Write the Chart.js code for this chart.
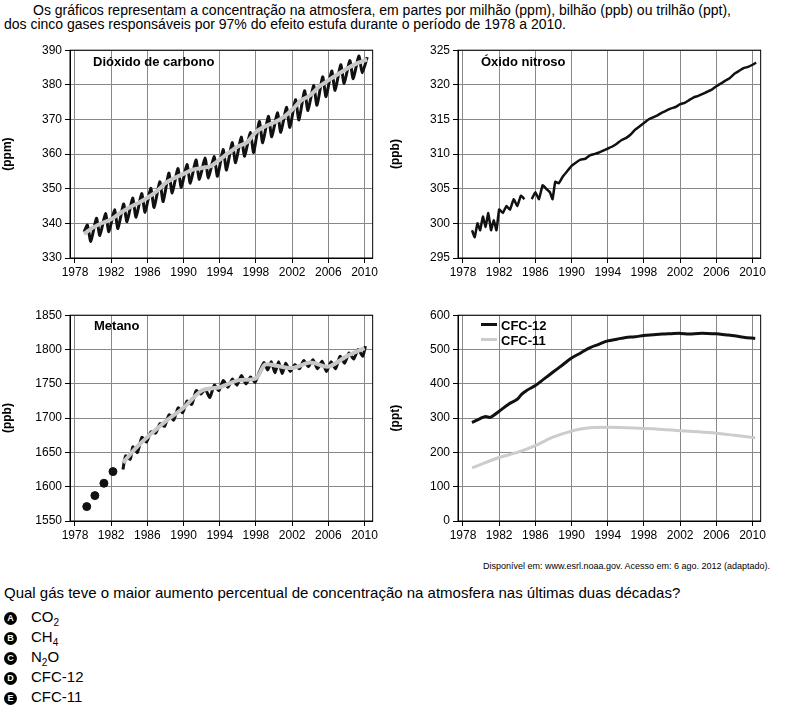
<!DOCTYPE html>
<html><head><meta charset="utf-8">
<script src="https://cdn.jsdelivr.net/npm/chart.js@4"></script>
<style>
body{margin:0;width:789px;height:714px;position:relative;font-family:"Liberation Sans",Arial,sans-serif;color:#000;background:#fff;overflow:hidden}
.t{position:absolute;font-size:14px;white-space:nowrap}
.c{position:absolute}
.lbl{position:absolute;font-weight:bold;font-size:13px}
.opt{position:absolute;left:4px;font-size:15px}
.opt b{display:inline-block;width:13px;height:13px;border-radius:50%;background:#000;color:#fff;font-size:9px;text-align:center;line-height:13px;margin-right:14px;vertical-align:1px}
sub{font-size:10px}
</style></head><body>
<div class="t" style="left:33px;top:2px">Os gráficos representam a concentração na atmosfera, em partes por milhão (ppm), bilhão (ppb) ou trilhão (ppt),</div>
<div class="t" style="left:4px;top:16px">dos cinco gases responsáveis por 97% do efeito estufa durante o período de 1978 a 2010.</div>
<div class="c" style="left:0;top:40px;width:380px;height:243px"><canvas id="co2"></canvas></div>
<div class="c" style="left:388px;top:40px;width:380px;height:243px"><canvas id="n2o"></canvas></div>
<div class="c" style="left:0;top:305px;width:380px;height:241px"><canvas id="ch4"></canvas></div>
<div class="c" style="left:388px;top:305px;width:380px;height:241px"><canvas id="cfc"></canvas></div>
<div class="lbl" style="left:93px;top:54px">Dióxido de carbono</div>
<div class="lbl" style="left:481px;top:54px">Óxido nitroso</div>
<div class="lbl" style="left:94px;top:318px">Metano</div>
<div class="lbl" style="left:481px;top:318px"><span style="display:inline-block;width:16px;height:3px;background:#111;vertical-align:4px;margin-right:4px"></span>CFC-12</div>
<div class="lbl" style="left:481px;top:333px"><span style="display:inline-block;width:16px;height:3px;background:#ccc;vertical-align:4px;margin-right:4px"></span>CFC-11</div>
<div class="t" style="left:483px;top:561px;font-size:9px">Disponível em: www.esrl.noaa.gov. Acesso em: 6 ago. 2012 (adaptado).</div>
<div class="t" style="left:4px;top:584px;font-size:15px">Qual gás teve o maior aumento percentual de concentração na atmosfera nas últimas duas décadas?</div>
<div class="opt" style="top:608px"><b>A</b>CO<sub>2</sub></div>
<div class="opt" style="top:628px"><b>B</b>CH<sub>4</sub></div>
<div class="opt" style="top:648px"><b>C</b>N<sub>2</sub>O</div>
<div class="opt" style="top:668px"><b>D</b>CFC-12</div>
<div class="opt" style="top:688px"><b>E</b>CFC-11</div>
<script>
const xTicks = [1978,1982,1986,1990,1994,1998,2002,2006,2010];

const co2Years = [1979.0,1979.37,1979.75,1980.37,1980.75,1981.37,1981.75,1982.37,1982.75,1983.37,1983.75,1984.37,1984.75,1985.37,1985.75,1986.37,1986.75,1987.37,1987.75,1988.37,1988.75,1989.37,1989.75,1990.37,1990.75,1991.37,1991.75,1992.37,1992.75,1993.37,1993.75,1994.37,1994.75,1995.37,1995.75,1996.37,1996.75,1997.37,1997.75,1998.37,1998.75,1999.37,1999.75,2000.37,2000.75,2001.37,2001.75,2002.37,2002.75,2003.37,2003.75,2004.37,2004.75,2005.37,2005.75,2006.37,2006.75,2007.37,2007.75,2008.37,2008.75,2009.37,2009.75,2010.3];
const co2Values = [337.5,339.5,334.8,341.5,336.5,342.8,337.6,343.9,338.5,345.6,340.5,347.3,341.8,348.6,343.2,350.1,344.6,352.0,346.3,354.5,348.8,355.8,350.4,357.0,351.6,358.3,352.7,358.9,353.1,359.3,353.6,361.3,355.4,363.3,357.5,364.9,359.4,366.2,360.5,369.4,363.3,370.9,365.0,371.9,366.3,373.5,367.7,375.7,369.9,378.3,372.6,379.8,374.1,382.3,376.6,384.0,378.4,385.8,380.4,387.0,381.8,388.3,383.5,388.0];
const co2TrendYears = [1979,1980,1981,1982,1983,1984,1985,1986,1987,1988,1989,1990,1991,1992,1993,1994,1995,1996,1997,1998,1999,2000,2001,2002,2003,2004,2005,2006,2007,2008,2009,2010.3];
const co2Trend = [337.0,338.8,340.1,341.2,343.0,344.6,345.9,347.4,349.2,351.6,353.1,354.3,355.5,356.0,356.5,358.4,360.4,362.2,363.4,366.4,368.0,369.1,370.6,372.8,375.5,377.0,379.5,381.3,383.0,384.6,386.0,387.3];

const n2oYears = [1979.0,1979.3,1979.6,1979.9,1980.2,1980.5,1980.8,1981.1,1981.4,1981.7,1982.0,1982.4,1982.8,1983.2,1983.6,1984.0,1984.4,1984.8,1985.2,1985.6,1986.0,1986.4,1986.8,1987.2,1987.6,1987.9,1988.2,1988.6,1989.0,1989.5,1990.0,1990.5,1991.0,1991.5,1992.0,1992.5,1993.0,1993.5,1994.0,1994.5,1995.0,1995.5,1996.0,1996.5,1997.0,1997.5,1998.0,1998.5,1999.0,1999.5,2000.0,2000.5,2001.0,2001.5,2002.0,2002.5,2003.0,2003.5,2004.0,2004.5,2005.0,2005.5,2006.0,2006.5,2007.0,2007.5,2008.0,2008.5,2009.0,2009.5,2010.0,2010.4];
const n2oValues = [299,298,300,299,301,299.5,301.5,299,300.5,299,302,301.5,302.5,302,303.5,302.5,304,303.5,null,303.5,304.5,303.5,305.5,305,304.5,303.5,306,305.8,306.7,307.5,308.3,308.8,309.2,309.3,309.8,310.0,310.2,310.5,310.8,311.1,311.5,312.0,312.3,312.8,313.5,314.0,314.5,315.0,315.3,315.6,316.0,316.3,316.6,316.8,317.2,317.4,317.8,318.2,318.4,318.7,319.0,319.3,319.8,320.2,320.6,321.0,321.6,322.0,322.4,322.6,322.9,323.2];

const ch4DotYears = [1979.3,1980.2,1981.2,1982.2];
const ch4DotValues = [1571,1587,1605,1622];
const ch4Years = [1983.3,1983.6,1984.1,1984.4,1984.9,1985.4,1985.9,1986.4,1986.9,1987.4,1987.9,1988.4,1988.9,1989.4,1989.9,1990.4,1990.9,1991.4,1991.9,1992.4,1992.9,1993.4,1993.9,1994.4,1994.9,1995.4,1995.9,1996.4,1996.9,1997.4,1997.9,1998.4,1998.9,1999.3,1999.7,2000.1,2000.5,2000.9,2001.3,2001.8,2002.3,2002.8,2003.3,2003.8,2004.3,2004.8,2005.3,2005.8,2006.3,2006.8,2007.3,2007.8,2008.3,2008.8,2009.3,2009.8,2010.1];
const ch4Values = [1625,1645,1640,1658,1650,1672,1665,1680,1678,1692,1688,1705,1697,1715,1708,1725,1720,1740,1735,1742,1730,1748,1740,1755,1745,1757,1748,1762,1750,1760,1752,1768,1781,1770,1782,1766,1782,1765,1780,1768,1778,1772,1784,1775,1785,1772,1783,1768,1782,1772,1790,1780,1795,1786,1800,1790,1805];
const ch4TrendYears = [1983.3,1985,1988,1990,1992,1994,1996,1998,1999,2000,2002,2004,2006,2008,2010];
const ch4Trend = [1635,1660,1695,1715,1740,1745,1755,1758,1778,1777,1773,1781,1775,1790,1802];

const cfc12Years = [1979,1980,1980.5,1981,1982,1983,1984,1984.5,1985,1986,1987,1988,1989,1990,1991,1992,1993,1994,1995,1996,1997,1998,1999,2000,2001,2002,2003,2004,2005,2006,2007,2008,2009,2010.3];
const cfc12Values = [287,300,305,302,320,340,355,370,380,395,415,435,455,475,490,505,515,525,530,535,537,541,543,545,546,547,545,547,547,546,543,540,536,532];
const cfc11Years = [1979,1980,1982,1984,1986,1988,1990,1991,1992,1994,1996,1998,2000,2002,2004,2006,2008,2010.3];
const cfc11Values = [155,165,185,200,220,245,262,268,272,273,272,270,267,263,260,256,250,243];

const pts = (xs, ys) => xs.map((x, i) => ({x: x, y: ys[i]}));
const F = {family: 'Liberation Sans', size: 12};

// cadre noir autour de la zone de tracé
const frame = {
    id: 'frame',
    afterDraw(chart) {
        const a = chart.chartArea, ctx = chart.ctx;
        ctx.save();
        ctx.strokeStyle = '#000';
        ctx.lineWidth = 1;
        ctx.strokeRect(a.left, a.top, a.right - a.left, a.bottom - a.top);
        ctx.restore();
    }
};

function makeChart(id, datasets, yMin, yMax, yStep, unit) {
    new Chart(document.getElementById(id), {
        type: 'line',
        data: {datasets: datasets},
        plugins: [frame],
        options: {
            animation: false,
            responsive: true,
            maintainAspectRatio: false,
            layout: {padding: {top: 10, right: 5, left: 0, bottom: 0}},
            plugins: {legend: {display: false}, tooltip: {enabled: false}},
            elements: {point: {radius: 0}, line: {tension: 0.3}},
            scales: {
                x: {
                    type: 'linear', min: 1977.45, max: 2010.9,
                    afterBuildTicks: s => { s.ticks = xTicks.map(v => ({value: v})); },
                    afterFit: s => { s.height = 25; },
                    ticks: {color: '#000', font: F, maxRotation: 0, padding: 2, callback: v => String(v)},
                    grid: {color: '#888', tickColor: '#000', tickLength: 5},
                    border: {color: '#000'}
                },
                y: {
                    min: yMin, max: yMax,
                    afterFit: s => { s.width = 70; },
                    ticks: {stepSize: yStep, color: '#000', font: F, padding: 3, callback: v => String(v)},
                    grid: {color: '#888', tickColor: '#000', tickLength: 5},
                    border: {color: '#000'},
                    title: {display: true, text: unit, color: '#000', padding: {top: 0, bottom: 0}, font: {family: 'Liberation Sans', size: 12, weight: 'bold'}}
                }
            }
        }
    });
}

makeChart('co2', [
    {data: pts(co2TrendYears, co2Trend), borderColor: '#c8c8c8', borderWidth: 4, order: 1},
    {data: pts(co2Years, co2Values), borderColor: '#111', borderWidth: 3, tension: 0.2, order: 2}
], 330, 390, 10, '(ppm)');

makeChart('n2o', [
    {data: pts(n2oYears, n2oValues), borderColor: '#111', borderWidth: 2.5, tension: 0.1, spanGaps: false}
], 295, 325, 5, '(ppb)');

makeChart('ch4', [
    {data: pts(ch4DotYears, ch4DotValues), showLine: false, pointRadius: 4, pointBackgroundColor: '#111', pointBorderColor: '#111'},
    {data: pts(ch4TrendYears, ch4Trend), borderColor: '#c8c8c8', borderWidth: 4, order: 1},
    {data: pts(ch4Years, ch4Values), borderColor: '#111', borderWidth: 3, tension: 0.2, order: 2}
], 1550, 1850, 50, '(ppb)');

makeChart('cfc', [
    {data: pts(cfc12Years, cfc12Values), borderColor: '#111', borderWidth: 3},
    {data: pts(cfc11Years, cfc11Values), borderColor: '#ccc', borderWidth: 3}
], 0, 600, 100, '(ppt)');
</script>
</body></html>
